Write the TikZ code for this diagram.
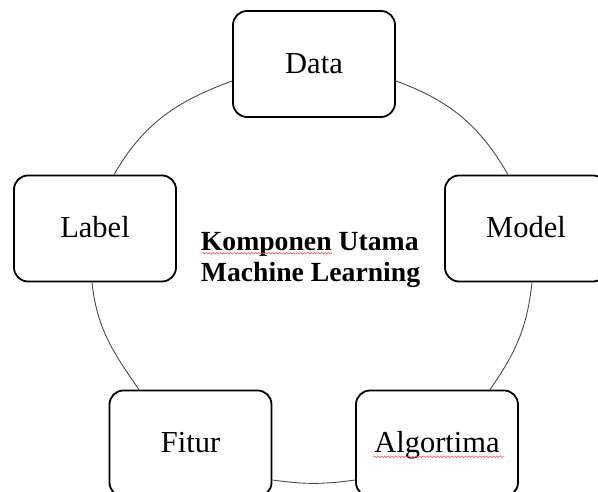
\documentclass[tikz,border=0pt]{standalone}
\usepackage{fontspec}
\setmainfont{Liberation Serif}
\usetikzlibrary{positioning,calc,decorations.pathmorphing}

\begin{document}
\begin{tikzpicture}[x=1pt,y=1pt,
  box/.style={draw, line width=1.8pt, rounded corners=14pt, fill=white,
    minimum width=162pt, minimum height=106pt, inner sep=0pt,
    text height=24pt, text depth=5pt,
    font=\fontsize{30.5}{36}\selectfont},
  ring/.style={draw=black!70, line width=0.9pt},
  spell/.style={draw=red!65, line width=0.6pt, decorate,
    decoration={snake, amplitude=0.8pt, segment length=3.5pt}}]
  \useasboundingbox (0,0) rectangle (598,492);

  % components
  \node[box] (data)  at (314,428)    {Data};
  \node[box] (label) at (95,263.5)   {Label};
  \node[box] (model) at (526,263.5)  {Model};
  \node[box] (fitur) at (190.5,48.5) {Fitur};
  \node[box] (algo)  at (437,48.5)   {Algortima};

  % title in the middle
  \node[inner sep=0pt, align=left,
    font=\fontsize{27.7}{31.3}\selectfont\bfseries] (title) at (310.5,231.8)
    {Komponen Utama\\Machine Learning};

  % the ring between the components
  \draw[ring] ([yshift=-17pt]data.west) to[out=200,in=60] ([xshift=19pt]label.north);
  \draw[ring] ([yshift=-17pt]data.east) to[out=-20,in=120] ([xshift=-18pt]model.north);
  \draw[ring] ([xshift=-3pt]label.south) to[out=-84,in=125] ([xshift=-51.5pt]fitur.north);
  \draw[ring] ([xshift=6pt]model.south) to[out=-96,in=55] ([xshift=53pt]algo.north);
  \draw[ring] ([yshift=-36.5pt]fitur.east) to[out=-8,in=188] ([yshift=-36.5pt]algo.west);

  % spelling marks
  \draw[spell] (201.7,238.7) -- (331.7,238.7);
  \draw[spell] (373.3,35.3) -- (504,35.3);
\end{tikzpicture}
\end{document}
